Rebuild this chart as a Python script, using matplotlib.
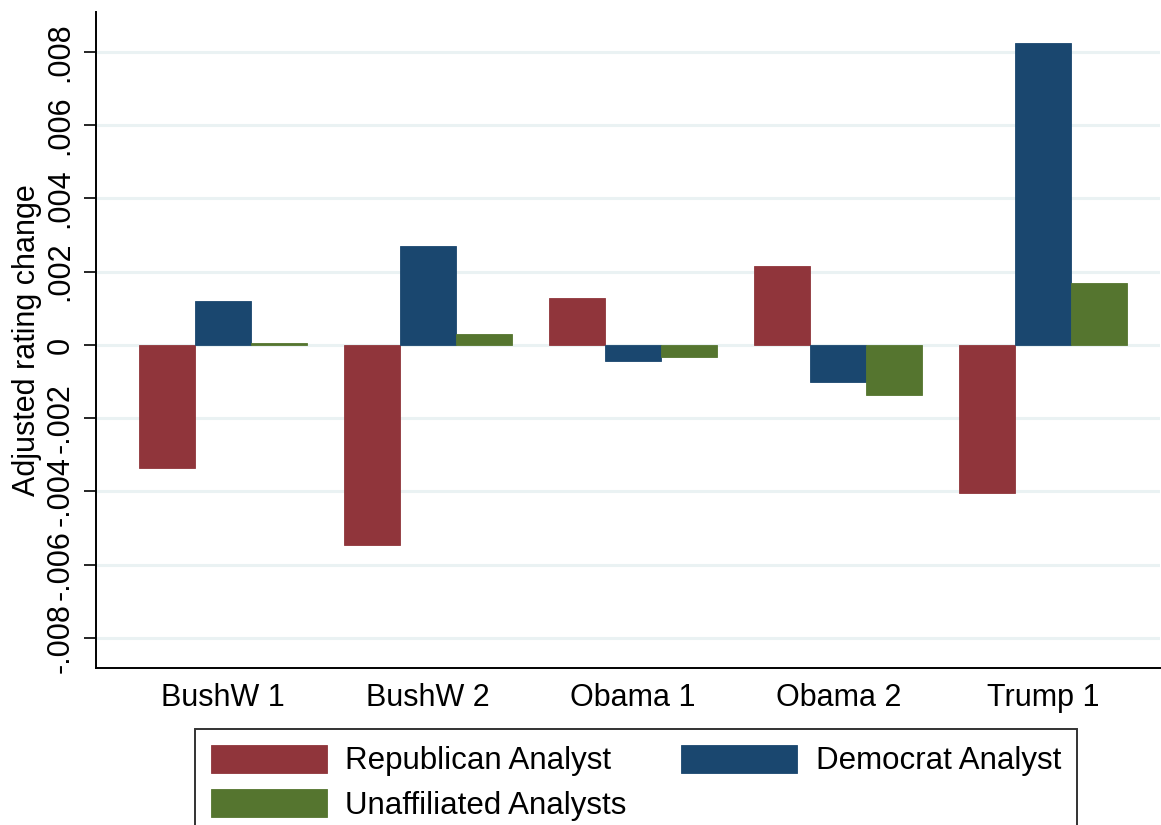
import numpy as np
import matplotlib
matplotlib.use("Agg")
import matplotlib.pyplot as plt

plt.rcParams["font.family"] = ["Liberation Sans", "DejaVu Sans"]

# values
terms = ["BushW 1", "BushW 2", "Obama 1", "Obama 2", "Trump 1"]
republican = [-0.00336, -0.00546, 0.00128, 0.00216, -0.00404]
democrat = [0.00120, 0.00271, -0.00043, -0.00101, 0.00825]
unaffiliated = [0.00005, 0.00030, -0.00032, -0.00137, 0.00169]

series_labels = ["Republican Analyst", "Democrat Analyst", "Unaffiliated Analysts"]
y_ticks = [-0.008, -0.006, -0.004, -0.002, 0.0, 0.002, 0.004, 0.006, 0.008]
y_tick_labels = ["-.008", "-.006", "-.004", "-.002", "0", ".002", ".004", ".006", ".008"]

colors = {"rep": "#90353B", "dem": "#1A476F", "una": "#55752F"}
FS = 22
FS_LEG = 22.5


def main():
    fig = plt.figure(figsize=(11.61, 8.25), dpi=100)
    ax = fig.add_axes([96 / 1161, 1 - 668 / 825, 1064 / 1161, 656 / 825])

    x = np.arange(len(terms))
    w = 0.273
    b_rep = ax.bar(x - w, republican, w, color=colors["rep"], edgecolor=colors["rep"],
                   linewidth=0.6, zorder=3, label=series_labels[0])
    b_dem = ax.bar(x, democrat, w, color=colors["dem"], edgecolor=colors["dem"],
                   linewidth=0.6, zorder=3, label=series_labels[1])
    b_una = ax.bar(x + w, unaffiliated, w, color=colors["una"], edgecolor=colors["una"],
                   linewidth=0.6, zorder=3, label=series_labels[2])

    ax.set_xlim(-0.617, 4.568)
    ax.set_ylim(-0.00882, 0.00909)

    ax.set_yticks(y_ticks)
    ax.set_yticklabels(y_tick_labels, rotation=90, va="center", fontsize=FS)
    ax.set_xticks(x)
    ax.set_xticklabels(terms, fontsize=FS)
    ax.tick_params(axis="x", length=0, pad=11)
    ax.tick_params(axis="y", length=8.6, width=1.2, pad=6)

    ax.grid(axis="y", color="#EAF2F3", linewidth=2.2, zorder=0)
    ax.set_axisbelow(True)
    for side in ("top", "right"):
        ax.spines[side].set_visible(False)
    for side in ("left", "bottom"):
        ax.spines[side].set_linewidth(1.4)

    ax.set_ylabel("Adjusted rating change", fontsize=FS, labelpad=3)

    leg = fig.legend(
        [b_rep, b_una, b_dem],
        [series_labels[0], series_labels[2], series_labels[1]],
        ncol=2,
        loc="upper center",
        bbox_to_anchor=(636 / 1161, 1 - 729 / 825),
        borderaxespad=0.0,
        fontsize=FS_LEG,
        frameon=True,
        fancybox=False,
        edgecolor="black",
        handlelength=3.7,
        handleheight=1.0,
        handletextpad=0.6,
        columnspacing=1.75,
        labelspacing=0.42,
        borderpad=0.5,
    )
    leg.get_frame().set_linewidth(1.4)

    fig.savefig("out.png", dpi=100)
    plt.close(fig)


if __name__ == "__main__":
    main()
